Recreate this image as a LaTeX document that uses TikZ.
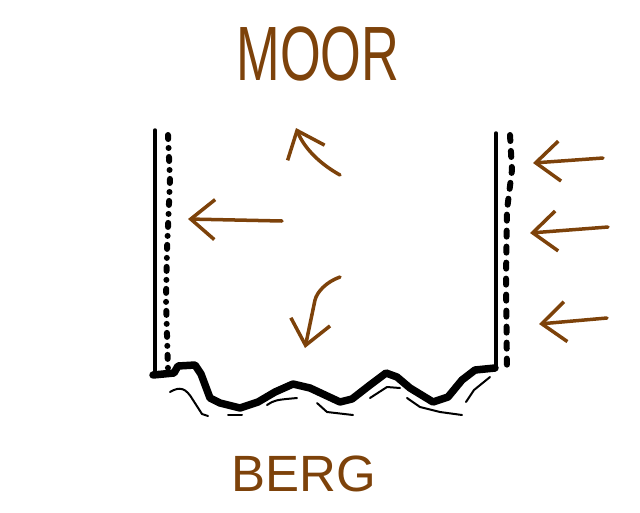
\documentclass[tikz,border=0pt]{standalone}
\usepackage{fontspec}
\setmainfont{Liberation Sans}
\usetikzlibrary{arrows.meta}
\definecolor{mudbrown}{RGB}{125,66,10}
\begin{document}
\begin{tikzpicture}[x=1pt, y=-1pt,
  line cap=round, line join=round,
  wall/.style = {line width=3.5pt},
  ground/.style = {line width=7.5pt},
  crack/.style = {line width=2pt},
  seepleft/.style = {line width=6pt, dash pattern=on 4pt off 9pt on 0pt off 9pt},
  seepright/.style = {line width=6pt, dash pattern=on 6pt off 10pt},
  flow/.style = {draw=mudbrown, line width=3.5pt,
    -{Straight Barb[length=24pt,width=40pt]}},
  every node/.style = {text=mudbrown, inner sep=0pt}]
  \useasboundingbox (0,0) rectangle (640,512);
  % labels
  \node (moor) at (318,54) {\fontsize{77}{77}\selectfont\scalebox{0.68}[1]{MOOR}};
  \node (berg) at (304,474) {\fontsize{51}{51}\selectfont BERG};
  % walls
  \draw[wall] (155,130) -- (155,375);
  \draw[wall] (496,133) -- (496,368);
  \draw[seepleft] (168,135) -- (170,180) -- (167,250) -- (166,300) -- (168,370);
  \draw[seepright] (510,135) -- (512,170) -- (507,210) -- (506,280) -- (507,372);
  % ground
  \draw[ground] (153,375) -- (174,373) -- (178,366) -- (195,365) -- (201,374)
    -- (210,398) -- (220,403) -- (240,408) -- (258,402) -- (275,392) -- (293,384)
    -- (310,388) -- (325,395) -- (340,402) -- (352,399) -- (370,385) -- (386,373)
    -- (397,377) -- (410,388) -- (433,402) -- (448,397) -- (462,380) -- (475,370)
    -- (495,368);
  \draw[crack] (170,392) .. controls (180,386) and (186,388) .. (193,400) -- (202,414) -- (208,416);
  \draw[crack] (228,415) -- (242,415);
  \draw[crack] (267,405) .. controls (275,400) .. (297,398);
  \draw[crack] (317,403) -- (327,412) -- (353,415);
  \draw[crack] (370,398) -- (387,387) -- (400,388);
  \draw[crack] (407,398) -- (420,407) -- (440,412) -- (462,415);
  \draw[crack] (466,402) -- (474,390) -- (490,377);
  % flows
  \draw[flow] (340,175) .. controls (322,165) and (305,150) .. (296,128);
  \draw[flow] (282,221) -- (188,219);
  \draw[flow] (340,277) .. controls (326,282) and (317,292) .. (315,300) -- (305,348);
  \draw[flow] (603,158) -- (533,163);
  \draw[flow] (608,227) -- (530,233);
  \draw[flow] (607,318) -- (539,324);
\end{tikzpicture}
\end{document}
